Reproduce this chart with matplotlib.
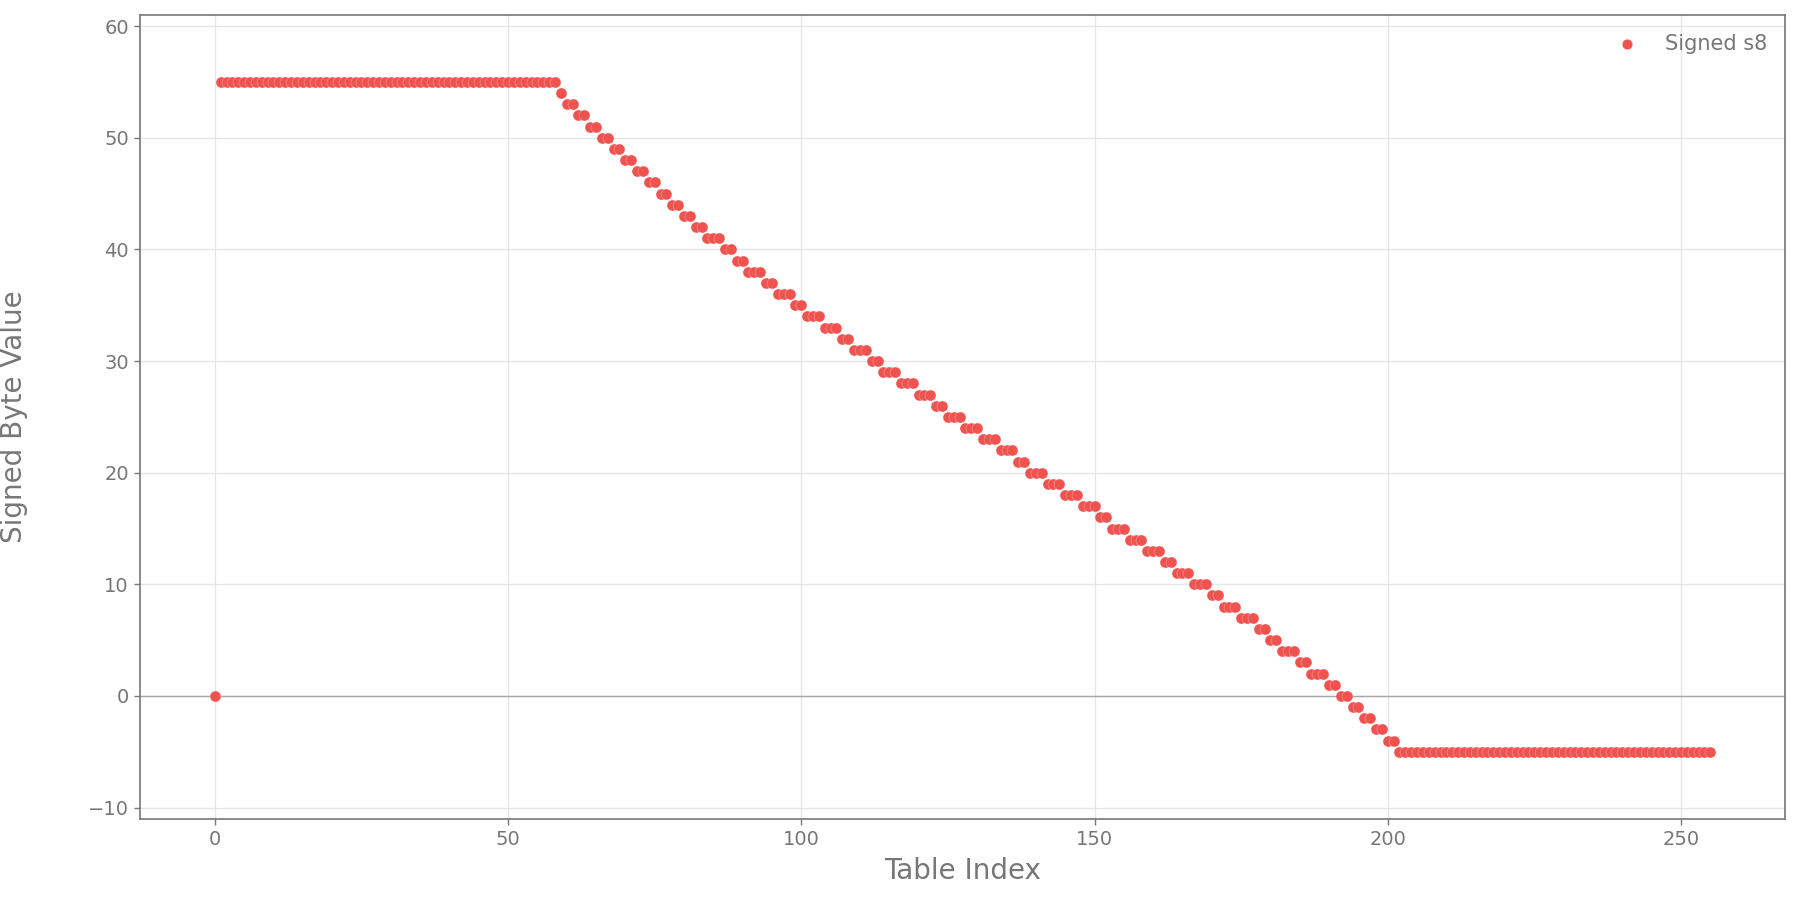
import numpy as np
import matplotlib
matplotlib.use("Agg")
import matplotlib.pyplot as plt

# Signed s8 table: (value, how many consecutive indices)
run_values = [0, 55, 54, 53, 52, 51, 50, 49, 48, 47, 46, 45, 44, 43, 42,
              41, 40, 39, 38, 37, 36, 35, 34, 33, 32, 31, 30, 29, 28, 27,
              26, 25, 24, 23, 22, 21, 20, 19, 18, 17, 16, 15, 14, 13, 12,
              11, 10, 9, 8, 7, 6, 5, 4, 3, 2, 1, 0, -1, -2, -3, -4, -5]
run_lengths = [1, 58, 1, 2, 2, 2, 2, 2, 2, 2, 2, 2, 2, 2, 2,
               3, 2, 2, 3, 2, 3, 2, 3, 3, 2, 3, 2, 3, 3, 3,
               2, 3, 3, 3, 3, 2, 3, 3, 3, 3, 2, 3, 3, 3, 2,
               3, 3, 2, 3, 3, 2, 2, 3, 2, 3, 2, 2, 2, 2, 2, 2, 54]

values = np.repeat(run_values, run_lengths)
index = np.arange(len(values))

gray = "#777777"
red = "#EF5350"

fig = plt.figure(figsize=(18, 9), dpi=100)
ax = fig.add_axes([0.0778, 0.0903, 0.9139, 0.893])

ax.grid(True, color="#e6e6e6", linewidth=1.0)
ax.axhline(0, color="#a8a8a8", linewidth=1.0, zorder=2)
ax.scatter(index, values, s=62, color=red, edgecolors=(1, 1, 1, 0.35),
           linewidths=0.5, zorder=3, label="Signed s8")

ax.set_xlim(-12.75, 267.75)
ax.set_ylim(-11, 61)
ax.set_xticks([0, 50, 100, 150, 200, 250])
ax.set_yticks([-10, 0, 10, 20, 30, 40, 50, 60])

for sp in ax.spines.values():
    sp.set_color(gray)
    sp.set_linewidth(1.2)
ax.tick_params(colors=gray, labelcolor=gray, labelsize=14, length=4.5, width=1.0)

ax.set_xlabel("Table Index", fontsize=20, color=gray, labelpad=6)
ax.set_ylabel("Signed Byte Value", fontsize=20, color=gray)
ax.yaxis.set_label_coords(-0.068, 0.5)

leg = ax.legend(loc="upper right", bbox_to_anchor=(0.994, 0.987), frameon=False,
                fontsize=15, labelcolor=gray, markerscale=0.95, handletextpad=0.8,
                borderaxespad=0.0)

fig.savefig("out.png", dpi=100)
